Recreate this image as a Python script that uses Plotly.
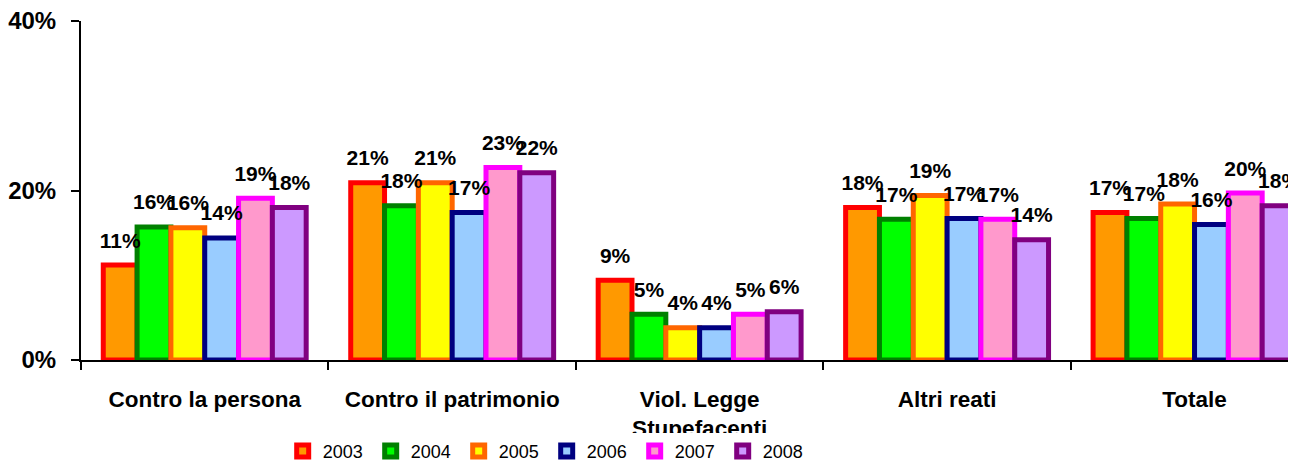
import plotly.graph_objects as go

categories = ["Contro la persona", "Contro il patrimonio", "Viol. Legge<br>Stupefacenti", "Altri reati", "Totale"]
years = ["2003", "2004", "2005", "2006", "2007", "2008"]

v2003 = [0.112, 0.209, 0.094, 0.180, 0.174]
v2004 = [0.157, 0.182, 0.054, 0.166, 0.167]
v2005 = [0.156, 0.209, 0.038, 0.194, 0.184]
v2006 = [0.144, 0.174, 0.038, 0.167, 0.160]
v2007 = [0.191, 0.227, 0.054, 0.166, 0.197]
v2008 = [0.180, 0.221, 0.057, 0.142, 0.182]
values = [v2003, v2004, v2005, v2006, v2007, v2008]

fills = ["#FF9900", "#00FF00", "#FFFF00", "#99CCFF", "#FF99CC", "#CC99FF"]
borders = ["#FF0000", "#008000", "#FF6600", "#000080", "#FF00FF", "#800080"]

FONT = "Liberation Sans, Arial, sans-serif"
GAP = 0.18

fig = go.Figure()
for yr, vals, fc, bc in zip(years, values, fills, borders):
    fig.add_trace(go.Bar(
        name=yr, x=categories, y=vals, offsetgroup=yr,
        marker=dict(color=fc, line=dict(color=bc, width=5)),
        hoverinfo="skip",
    ))
for yr, vals in zip(years, values):
    fig.add_trace(go.Scatter(
        x=categories, y=vals, offsetgroup=yr, mode="markers+text",
        marker=dict(size=18, opacity=0),
        text=[f"{round(v * 100):.0f}%" for v in vals],
        textposition="top center", showlegend=False, hoverinfo="skip",
        cliponaxis=True,
        textfont=dict(family=FONT, size=21, color="black", weight="bold"),
    ))

fig.update_layout(
    width=1288, height=480,
    margin=dict(l=73, r=0, t=13, b=128),
    paper_bgcolor="white", plot_bgcolor="white",
    barmode="group", bargap=GAP, bargroupgap=0,
    scattermode="group", scattergap=GAP,
    showlegend=True,
    legend=dict(orientation="h", x=0.166, xanchor="left", y=-0.215, yanchor="top",
                font=dict(family=FONT, size=18, color="black"),
                bgcolor="white", entrywidth=43, entrywidthmode="pixels",
                traceorder="normal"),
    xaxis=dict(range=[-0.5, 4.41], showline=True, linecolor="black", linewidth=2,
               ticks="outside", tickson="boundaries", ticklen=8, tickcolor="black", tickwidth=2,
               ticklabelstandoff=18, automargin=False,
               tickfont=dict(family=FONT, size=22.5, color="black", weight="bold"),
               showgrid=False, zeroline=False, fixedrange=True),
    yaxis=dict(range=[0, 0.4], dtick=0.2, tickformat=".0%", showline=True,
               linecolor="black", linewidth=2, ticks="outside", ticklen=8,
               tickcolor="black", tickwidth=2, ticklabelstandoff=10, automargin=False,
               ticklabeloverflow="allow",
               tickfont=dict(family=FONT, size=24, color="black", weight="bold"),
               showgrid=False, zeroline=False, fixedrange=True),
)

fig.write_html("out.html")
